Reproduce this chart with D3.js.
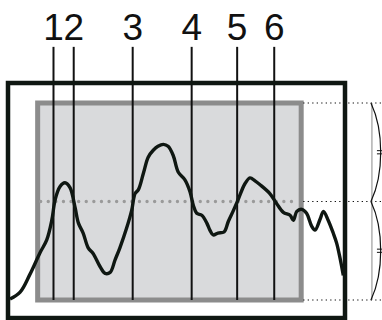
<!DOCTYPE html>
<meta charset="utf-8">
<script src="https://d3js.org/d3.v7.min.js"></script>
<style>
  body { margin: 0; background: #fff; overflow: hidden; }
</style>
<div id="chart"></div>
<script>
    // trace samples: time (0-100 across the frame) and normalised value (band = -1..1)
    const signalT = [0.6, 3.6, 6.5, 9.5, 11.5, 13.0, 14.0, 15.4, 16.9, 18.4, 19.9, 20.9, 22.3, 23.8, 25.3,
        27.3, 28.8, 30.3, 31.8, 33.2, 35.2, 36.7, 37.7, 38.7, 40.2, 41.6, 43.1, 44.5, 46.1, 47.5, 49.0,
        50.5, 52.5, 54.0, 55.0, 56.0, 57.5, 59.0, 59.9, 60.9, 62.3, 64.1, 65.4, 66.9, 68.3, 70.3, 71.8,
        73.3, 74.8, 77.7, 79.7, 81.7, 83.7, 84.7, 85.7, 87.2, 88.6, 90.1, 91.1, 92.6, 93.6, 95.0, 96.5,
        97.5, 98.5, 99.5];
    const signalV = [-0.99, -0.92, -0.74, -0.52, -0.39, -0.19, 0.02, 0.15, 0.19, 0.14, -0.06, -0.22, -0.32, -0.47, -0.53,
        -0.66, -0.73, -0.72, -0.59, -0.47, -0.27, -0.09, 0.08, 0.12, 0.29, 0.45, 0.52, 0.56, 0.58, 0.56, 0.47,
        0.30, 0.22, 0.10, -0.04, -0.12, -0.14, -0.22, -0.29, -0.34, -0.32, -0.31, -0.20, -0.09, 0.02, 0.18, 0.24,
        0.21, 0.17, 0.08, -0.02, -0.11, -0.14, -0.19, -0.10, -0.08, -0.12, -0.25, -0.29, -0.18, -0.10, -0.19, -0.32,
        -0.42, -0.57, -0.75];

    const markerLabels = ["1", "2", "3", "4", "5", "6"];
    const markerT = [13.5, 19.5, 37, 54.5, 68, 79];

    const bandT = [8.8, 87];      // start / end of shaded band
    const bandV = [-1, 0, 1];     // low, mean, high

    const width = 382, height = 320;

    const svg = d3.select("#chart")
      .append("svg")
        .attr("width", width)
        .attr("height", height);

    const x = d3.scaleLinear()
        .domain([0, 100])
        .range([8, 345]);
    const y = d3.scaleLinear()
        .domain([-1, 1])
        .range([300, 103]);

    // shaded band
    svg.append("rect")
        .attr("x", x(bandT[0]))
        .attr("y", y(bandV[2]))
        .attr("width", x(bandT[1]) - x(bandT[0]))
        .attr("height", y(bandV[0]) - y(bandV[2]))
        .attr("fill", "#d9dadc")
        .attr("stroke", "#8c8c8c")
        .attr("stroke-width", 5);

    // mean line (gray dots)
    svg.append("line")
        .attr("x1", x(bandT[0]) + 3)
        .attr("x2", x(bandT[1]) - 4)
        .attr("y1", y(bandV[1]))
        .attr("y2", y(bandV[1]))
        .attr("stroke", "#9a9a9a")
        .attr("stroke-width", 3.4)
        .attr("stroke-linecap", "round")
        .attr("stroke-dasharray", "0,7.6");

    // thin dotted guides to the right
    svg.selectAll("line.guide")
        .data(bandV)
        .join("line")
        .attr("class", "guide")
        .attr("x1", x(bandT[1]) + 2)
        .attr("x2", x(111))
        .attr("y1", d => y(d))
        .attr("y2", d => y(d))
        .attr("stroke", "#111")
        .attr("stroke-width", 1.2)
        .attr("stroke-dasharray", "1.3,3.2");

    // braces with equal marks
    const bx = x(107.7);
    const halves = [[bandV[2], bandV[1]], [bandV[1], bandV[0]]];
    svg.append("line")
        .attr("x1", bx + 1).attr("x2", bx + 1)
        .attr("y1", y(bandV[2])).attr("y2", y(bandV[0]))
        .attr("stroke", "#888")
        .attr("stroke-width", 1);
    svg.selectAll("path.brace")
        .data(halves)
        .join("path")
        .attr("class", "brace")
        .attr("fill", "none")
        .attr("stroke", "#111")
        .attr("stroke-width", 1.2)
        .attr("d", d => {
            const y0 = y(d[0]), y1 = y(d[1]), h = y1 - y0;
            return `M${bx},${y0} C${bx + 13},${y0 + h * 0.28} ${bx + 13},${y1 - h * 0.28} ${bx},${y1}`;
        });
    halves.forEach(d => {
        const m = (y(d[0]) + y(d[1])) / 2;
        [-1.6, 1.6].forEach(o => {
            svg.append("line")
                .attr("x1", bx + 6).attr("x2", bx + 11)
                .attr("y1", m + o).attr("y2", m + o)
                .attr("stroke", "#111")
                .attr("stroke-width", 1);
        });
    });

    // event markers
    svg.selectAll("line.marker")
        .data(markerT)
        .join("line")
        .attr("class", "marker")
        .attr("x1", d => x(d))
        .attr("x2", d => x(d))
        .attr("y1", y(-1))
        .attr("y2", y(1.57))
        .attr("stroke", "#111")
        .attr("stroke-width", 2);
    svg.selectAll("text.label")
        .data(markerT)
        .join("text")
        .attr("class", "label")
        .attr("x", d => x(d))
        .attr("y", y(1.57) - 7)
        .attr("text-anchor", "middle")
        .attr("font-family", "'Liberation Sans', Arial, sans-serif")
        .attr("font-size", 37)
        .attr("fill", "#111")
        .text((d, i) => markerLabels[i]);

    // the trace
    const pts = signalT.map((t, i) => [t, signalV[i]]);
    svg.append("path")
        .datum(pts)
        .attr("fill", "none")
        .attr("stroke", "#0f1712")
        .attr("stroke-width", 3.4)
        .attr("stroke-linejoin", "round")
        .attr("d", d3.line()
            .curve(d3.curveCatmullRom)
            .x(d => x(d[0]))
            .y(d => y(d[1]))
        );

    // outer frame
    svg.append("rect")
        .attr("x", x(0))
        .attr("y", y(1.203))
        .attr("width", x(100) - x(0))
        .attr("height", y(-1.183) - y(1.203))
        .attr("fill", "none")
        .attr("stroke", "#0f1712")
        .attr("stroke-width", 4.5);
</script>
